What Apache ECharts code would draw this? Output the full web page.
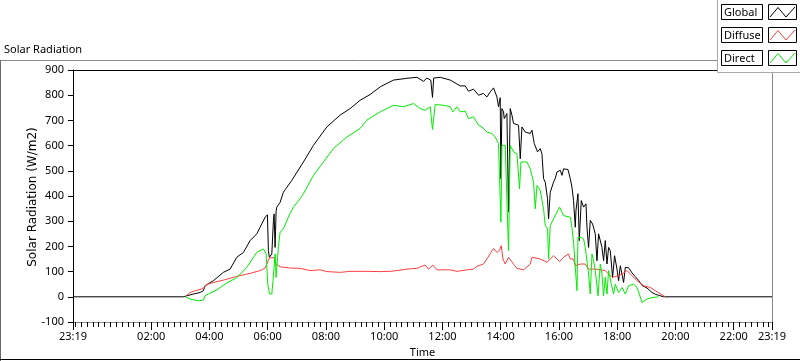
<!DOCTYPE html>
<html><head><meta charset="utf-8">
<script src="https://cdn.jsdelivr.net/npm/echarts@6/dist/echarts.min.js"></script>
<style>html,body{margin:0;padding:0;background:#fff}#c{width:800px;height:361px}</style>
</head><body><div id="c"></div>
<script>
// time axis in decimal hours of the day (23:19 of the previous day = -41/60)
const axisStart = -41 / 60;
const axisEnd = 23 + 19 / 60;
const xLabelHours = [axisStart, 2, 4, 6, 8, 10, 12, 14, 16, 18, 20, 22, axisEnd];
const yTicks = [-100, 0, 100, 200, 300, 400, 500, 600, 700, 800, 900];
const seriesNames = ['Global', 'Diffuse', 'Direct'];

const globalHours = [axisStart, 3.10, 3.164, 3.45, 3.68, 3.793, 3.852, 4.137, 4.48, 4.71, 4.941, 5.167, 5.397, 5.628, 5.741, 5.913, 5.992, 6.006, 6.026, 6.06, 6.084, 6.143, 6.198, 6.222, 6.256, 6.29, 6.315, 6.428, 6.541, 6.60, 6.83, 6.885, 7.228, 7.572, 8.032, 8.489, 8.833, 9.176, 9.52, 9.863, 10.32, 10.781, 11.124, 11.351, 11.468, 11.60, 11.66, 11.70, 11.924, 12.268, 12.611, 12.783, 12.896, 13.068, 13.24, 13.412, 13.528, 13.642, 13.755, 13.872, 13.927, 13.985, 14.009, 14.044, 14.099, 14.123, 14.215, 14.27, 14.329, 14.387, 14.442, 14.501, 14.614, 14.673, 14.731, 14.844, 15.016, 15.075, 15.154, 15.222, 15.267, 15.36, 15.418, 15.473, 15.531, 15.61, 15.645, 15.703, 15.816, 15.875, 15.933, 16.047, 16.105, 16.16, 16.311, 16.39, 16.448, 16.503, 16.562, 16.586, 16.655, 16.699, 16.768, 16.847, 16.929, 16.964, 17.019, 17.077, 17.156, 17.249, 17.307, 17.362, 17.479, 17.534, 17.592, 17.651, 17.706, 17.764, 17.843, 17.912, 17.994, 18.049, 18.108, 18.166, 18.221, 18.28, 18.393, 18.51, 18.623, 18.737, 18.853, 19.025, 19.197, 19.31, 19.424, 19.595, axisEnd];
const globalWm2 = [0, 0, 0, 11, 17, 24, 44, 64, 97, 110, 157, 176, 223, 250, 276, 316, 325, 329, 183, 157, 150, 170, 303, 329, 196, 340, 356, 375, 415, 425, 462, 469, 535, 601, 674, 721, 747, 780, 803, 833, 860, 867, 871, 855, 868, 860, 791, 868, 871, 860, 837, 837, 816, 824, 800, 807, 793, 813, 829, 793, 754, 790, 469, 747, 734, 707, 727, 336, 747, 721, 688, 694, 681, 548, 674, 654, 648, 661, 608, 601, 575, 588, 568, 469, 455, 389, 309, 415, 455, 470, 495, 502, 482, 508, 505, 469, 435, 382, 276, 342, 409, 223, 382, 356, 369, 276, 196, 303, 289, 250, 143, 250, 196, 143, 223, 130, 196, 183, 77, 163, 110, 64, 123, 117, 57, 117, 115, 95, 80, 65, 45, 35, 17, 10, 6, 0, 0];

const diffuseHours = [3.164, 3.336, 3.508, 3.738, 3.852, 3.886, 4.137, 4.48, 4.941, 5.397, 5.741, 5.913, 5.971, 6.06, 6.222, 6.29, 6.428, 6.772, 7.115, 7.459, 7.802, 8.032, 8.489, 8.833, 9.406, 9.863, 10.207, 10.437, 10.781, 11.124, 11.409, 11.522, 11.674, 11.811, 12.268, 12.498, 12.841, 13.068, 13.185, 13.412, 13.528, 13.755, 13.872, 13.961, 14.02, 14.078, 14.157, 14.27, 14.442, 14.559, 14.786, 15.016, 15.075, 15.36, 15.59, 15.816, 16.023, 16.16, 16.332, 16.39, 16.503, 16.562, 16.734, 16.905, 17.019, 17.249, 17.592, 17.823, 17.936, 18.166, 18.338, 18.51, 18.682, 18.908, 19.138, 19.31, 19.54, 19.654];
const diffuseWm2 = [0, 17, 24, 31, 40, 48, 57, 66, 81, 93, 104, 114, 114, 155, 155, 130, 119, 114, 113, 104, 107, 100, 97, 101, 101, 100, 101, 104, 110, 113, 126, 110, 126, 107, 107, 101, 107, 110, 121, 130, 150, 192, 176, 185, 203, 150, 130, 157, 130, 113, 107, 130, 157, 150, 137, 163, 140, 157, 170, 150, 150, 123, 130, 130, 110, 110, 104, 77, 80, 90, 104, 84, 64, 44, 37, 24, 8, 0];

const directHours = [3.164, 3.336, 3.621, 3.793, 3.852, 3.965, 4.253, 4.597, 4.941, 5.284, 5.628, 5.854, 5.947, 6.006, 6.06, 6.143, 6.222, 6.256, 6.29, 6.37, 6.428, 6.541, 6.747, 6.885, 7.115, 7.228, 7.572, 7.915, 8.259, 8.719, 9.176, 9.406, 9.863, 10.32, 10.664, 11.007, 11.237, 11.409, 11.581, 11.66, 11.753, 12.038, 12.268, 12.361, 12.498, 12.611, 12.783, 12.896, 13.068, 13.24, 13.357, 13.528, 13.70, 13.814, 13.927, 13.985, 14.009, 14.044, 14.157, 14.27, 14.329, 14.442, 14.559, 14.648, 14.697, 14.903, 15.016, 15.13, 15.188, 15.247, 15.36, 15.473, 15.531, 15.61, 15.645, 15.703, 15.816, 15.933, 16.023, 16.16, 16.39, 16.448, 16.503, 16.62, 16.655, 16.768, 16.847, 16.905, 17.019, 17.077, 17.136, 17.191, 17.249, 17.342, 17.421, 17.479, 17.534, 17.592, 17.651, 17.706, 17.799, 17.878, 17.936, 18.049, 18.166, 18.28, 18.393, 18.565, 18.682, 18.761, 18.853, 18.908, 19.025, 19.197, 19.424];
const directWm2 = [0, -9, -16, -13, 4, 11, 27, 55, 76, 117, 176, 190, 171, 50, 11, 11, 117, 170, 77, 200, 256, 270, 325, 356, 389, 409, 482, 535, 588, 634, 668, 701, 734, 760, 754, 767, 747, 740, 754, 664, 763, 760, 754, 734, 754, 734, 737, 707, 714, 681, 674, 654, 648, 634, 608, 389, 296, 601, 601, 183, 601, 575, 568, 429, 535, 535, 508, 455, 349, 442, 422, 349, 283, 270, 150, 283, 309, 336, 356, 322, 316, 276, 216, 24, 236, 236, 230, 196, 90, 11, 170, 143, 104, 4, 130, 90, 4, 77, 11, 104, 50, 11, 50, 17, 37, 11, 44, 50, 37, 11, -23, -16, -9, -3, 0];

const zip = (xs, ys) => xs.map((x, i) => [x, ys[i]]);
const minorTicks = [];
for (let k = -3; k <= 116; k++) minorTicks.push(k / 5);

const FONT = 'Noto Sans';
const fmtTime = v => {
  if (v < 0 || v > 23) return '23:19';
  const h = Math.round(v);
  return (h < 10 ? '0' : '') + h + ':00';
};

const legendColors = ['#000000', '#ff4040', '#00ee00'];
const legendTop = [4, 27, 50];
const legendGraphics = [{
  type: 'rect', z: 100, shape: {x: 717.5, y: -1, width: 90, height: 73.5},
  style: {fill: '#fff', stroke: '#a8a8a8', lineWidth: 1}
}];
seriesNames.forEach((name, i) => {
  const y0 = legendTop[i];
  legendGraphics.push(
    {type: 'rect', z: 101, shape: {x: 721.5, y: y0 + 0.5, width: 41, height: 15}, style: {fill: '#fff', stroke: '#000', lineWidth: 1}},
    {type: 'text', z: 102, x: 724, y: y0 + 8.5, style: {text: name, font: '11px ' + FONT, fill: '#000', verticalAlign: 'middle', align: 'left'}},
    {type: 'rect', z: 101, shape: {x: 768.5, y: y0 + 0.5, width: 28, height: 15}, style: {fill: '#fff', stroke: '#000', lineWidth: 1}},
    {type: 'polyline', z: 102, shape: {points: [[770, y0 + 13], [778, y0 + 3.5], [786, y0 + 13], [795, y0 + 3]]}, style: {stroke: legendColors[i], lineWidth: 1, fill: null}}
  );
});

const chart = echarts.init(document.getElementById('c'), null, {renderer: 'canvas'});
chart.setOption({
  animation: false,
  backgroundColor: '#fff',
  textStyle: {fontFamily: FONT},
  grid: {left: 73, top: 70, right: 28, bottom: 39, show: false, containLabel: false, outerBoundsMode: 'none'},
  xAxis: [{
    type: 'value', min: axisStart, max: axisEnd, position: 'bottom',
    name: 'Time', nameLocation: 'middle', nameGap: 25, nameMoveOverlap: false,
    nameTextStyle: {fontSize: 11, color: '#000', fontFamily: FONT, verticalAlign: 'top'},
    axisLine: {show: true, onZero: false, lineStyle: {color: '#8a8a8a', width: 1}},
    axisTick: {show: true, length: 8, lineStyle: {color: '#000'}, customValues: xLabelHours},
    axisLabel: {customValues: xLabelHours, formatter: fmtTime, fontSize: 11, color: '#000', margin: 9, fontFamily: FONT, showMinLabel: true, showMaxLabel: true, hideOverlap: false},
    splitLine: {show: false}
  }, {
    type: 'value', min: axisStart, max: axisEnd, position: 'bottom',
    axisLine: {show: false, onZero: false},
    axisTick: {show: true, length: 5, lineStyle: {color: '#000'}, customValues: minorTicks},
    axisLabel: {show: false}, splitLine: {show: false}
  }, {
    type: 'value', min: axisStart, max: axisEnd, position: 'top',
    axisLine: {show: true, onZero: false, lineStyle: {color: '#000', width: 1}},
    axisTick: {show: false}, axisLabel: {show: false}, splitLine: {show: false}
  }],
  yAxis: [{
    type: 'value', min: yTicks[0], max: yTicks[yTicks.length - 1], interval: 100, position: 'left',
    axisLine: {show: true, onZero: false, lineStyle: {color: '#000', width: 1}},
    axisTick: {show: true, length: 5, lineStyle: {color: '#000'}},
    axisLabel: {fontSize: 11, color: '#000', margin: 9, fontFamily: FONT},
    splitLine: {show: false}
  }, {
    type: 'value', min: yTicks[0], max: yTicks[yTicks.length - 1], position: 'right',
    axisLine: {show: true, onZero: false, lineStyle: {color: '#8a8a8a', width: 1}},
    axisTick: {show: false}, axisLabel: {show: false}, splitLine: {show: false}
  }],
  series: [
    {name: seriesNames[0], type: 'line', data: zip(globalHours, globalWm2), showSymbol: false, symbol: 'none', lineStyle: {color: legendColors[0], width: 1}, z: 3},
    {name: seriesNames[1], type: 'line', data: zip(diffuseHours, diffuseWm2), showSymbol: false, symbol: 'none', lineStyle: {color: legendColors[1], width: 1}, z: 4},
    {name: seriesNames[2], type: 'line', data: zip(directHours, directWm2), showSymbol: false, symbol: 'none', lineStyle: {color: legendColors[2], width: 1}, z: 5}
  ],
  graphic: [
    {type: 'text', x: 4, y: 44, style: {text: 'Solar Radiation', font: '11px ' + FONT, fill: '#000'}},
    {type: 'text', x: 33, y: 197, rotation: Math.PI / 2, style: {text: 'Solar Radiation (W/m2)', font: '12px "DejaVu Sans"', fill: '#000', align: 'center', verticalAlign: 'middle'}},
    {type: 'line', shape: {x1: 0, y1: 60.5, x2: 717, y2: 60.5}, style: {stroke: '#8a8a8a', lineWidth: 1}},
    {type: 'line', shape: {x1: 0.5, y1: 60, x2: 0.5, y2: 361}, style: {stroke: '#6a6a6a', lineWidth: 1}},
    {type: 'line', shape: {x1: 0, y1: 359.5, x2: 800, y2: 359.5}, style: {stroke: '#000', lineWidth: 1}}
  ].concat(legendGraphics)
});
</script></body></html>
